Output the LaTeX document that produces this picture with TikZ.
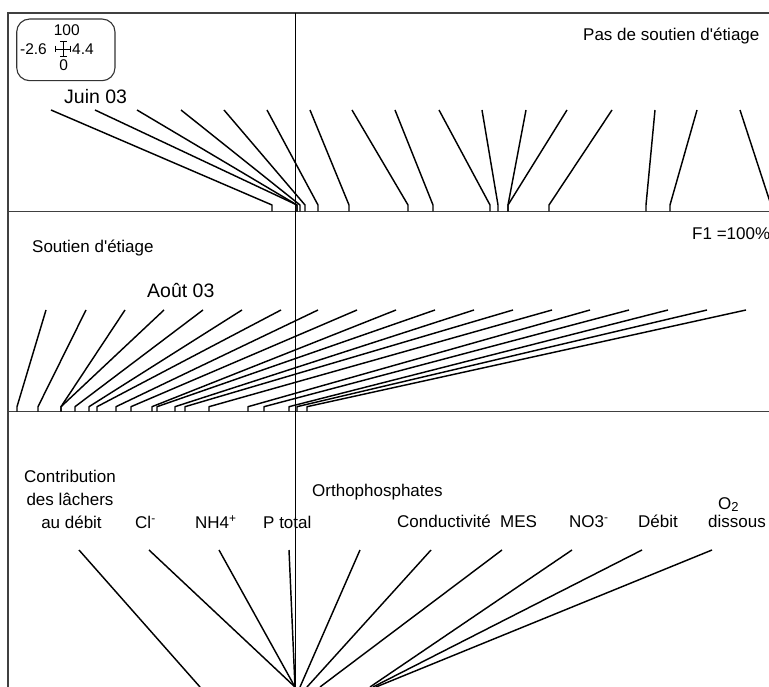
\documentclass[tikz,border=0pt]{standalone}
\usepackage{fontspec}
\setmainfont{Liberation Sans}[Ligatures=TeXOff]
\begin{document}
\begin{tikzpicture}[x=1pt,y=-1pt,
  frame/.style={line width=1.9pt, black!75},
  dline/.style={line width=1.45pt, black, line join=round},
  lab/.style={inner sep=0pt, anchor=base west, font=\fontsize{17}{20}\selectfont},
  labc/.style={inner sep=0pt, anchor=base, font=\fontsize{17}{20}\selectfont},
  big/.style={inner sep=0pt, anchor=base west, font=\fontsize{19.5}{22}\selectfont},
  leg/.style={inner sep=0pt, anchor=center, font=\fontsize{15.5}{17}\selectfont},
]
\useasboundingbox (0,0) rectangle (769,687);
\clip (0,0) rectangle (769,687);
% frame and axes
\draw[frame] (769,12.7) -- (8.3,12.7) -- (8.3,687);
\draw[frame] (8.3,211.5) -- (769,211.5);
\draw[frame] (8.3,411.5) -- (769,411.5);
\draw[line width=1.4pt] (295.7,12.7) -- (295.7,687);
% June lines
\foreach \t/\f in {51/272,95/297,137/297,181/300,224/305,267/318,310/349,352/408,395/433,439/490,482/498,526/508,567/508,612/549,655/646,697/670,740/771}
  \draw[dline] (\t,110) -- (\f,205) -- (\f,211.5);
% August lines
\foreach \t/\f in {46/17,86/38,125/61,164/61,203/75,242/89,281/97,318/116,357/131,396/152,435/157,474/175,513/185,552/209,590/248,629/264,668/289,707/297,746/307}
  \draw[dline] (\t,310) -- (\f,406.7) -- (\f,411.5);
% bottom variables
\foreach \t/\b in {79/200,149/295,219/295,289/295,360/300,431/307,502/320,572/370,642/373,712/376}
  \draw[dline] (\t,550) -- (\b,687);
% legend
\draw[line width=1.1pt, black!80, rounded corners=13pt] (16.7,19) rectangle (115,80.7);
\node[leg] (l100) at (66.7,30) {100};
\node[leg] (lm) at (33.5,49) {-2.6};
\node[leg] (lp) at (83,49) {4.4};
\node[leg] (l0) at (63.7,65) {0};
\draw[line width=0.9pt] (55,49) -- (70,49) (55,45.7) -- (55,52.3) (70,45.7) -- (70,52.3)
  (63.3,41.3) -- (63.3,56.7) (60,41.3) -- (66.7,41.3) (60,56.7) -- (66.7,56.7);
% titles
\node[lab] (pas) at (583,40.5) {Pas de soutien d'étiage};
\node[big] (juin) at (64,103.3) {Juin 03};
\node[lab] (sout) at (32,252.7) {Soutien d'étiage};
\node[big] (aout) at (147,297.3) {Août 03};
\node[lab] (f1) at (692,239.3) {F1 =100\%};
% bottom labels
\node[labc] (c1) at (70,482.7) {Contribution};
\node[labc] (c2) at (70,505.7) {des lâchers};
\node[labc] (c3) at (71.5,528.3) {au débit};
\node[lab] (cl) at (135,528.3) {Cl\textsuperscript{-}};
\node[lab] (nh) at (195,528.3) {NH4\textsuperscript{+}};
\node[lab] (pt) at (263,528.3) {P total};
\node[lab] (ortho) at (312,496) {Orthophosphates};
\node[lab] (cond) at (397,527.3) {Conductivité};
\node[lab] (mes) at (500,527.3) {MES};
\node[lab] (no3) at (569,527.3) {NO3\textsuperscript{-}};
\node[lab] (deb) at (638,527.3) {Débit};
\node[lab] (o2) at (718,509.5) {O\raisebox{-2pt}{\fontsize{13}{15}\selectfont 2}};
\node[lab] (diss) at (708,527.3) {dissous};
\end{tikzpicture}
\end{document}
